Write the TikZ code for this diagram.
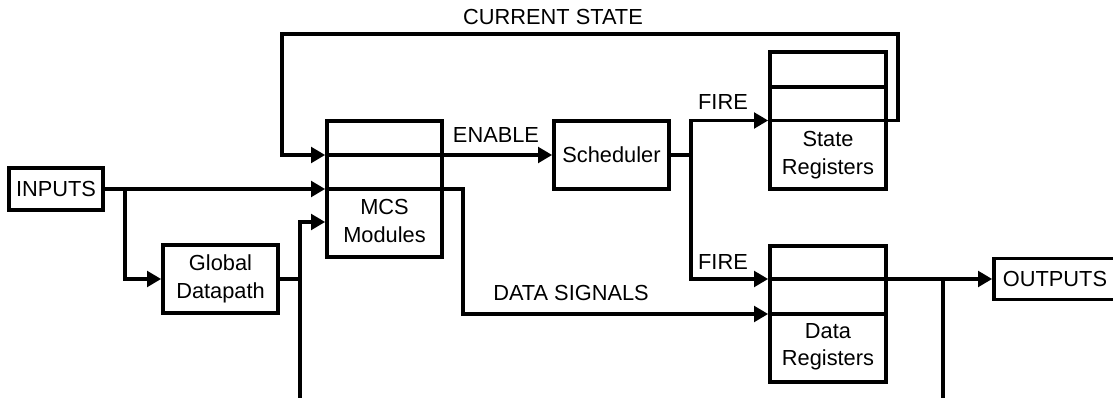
\documentclass[tikz,border=0pt]{standalone}
\usepackage{fontspec}
\setmainfont{Liberation Sans}
\usetikzlibrary{positioning, arrows.meta}

\begin{document}
\begin{tikzpicture}[x=0.025cm, y=-0.025cm, line width=2.6pt, font=\fontsize{15.5}{19.5}\selectfont]
    \tikzstyle{block} = [rectangle, draw, minimum width=2.875cm, text centered, align=center, inner sep=0pt]
    \tikzstyle{caption} = [align=center, inner sep=0pt]
    \tikzstyle{arrow} = [-{Triangle[length=10pt,width=11pt]}]

    \useasboundingbox (0,0) rectangle (1113,398);
    \clip (0,0) rectangle (1113,398);

    \node [block, minimum width=2.35cm, minimum height=1.05cm] (inputs) at (56,189) {INPUTS};
    \node [block, minimum height=1.7cm] (global) at (220.5,279) {Global\\Datapath};
    \node [block, minimum height=3.4cm] (mcs) at (384.5,189) {};
    \node [caption] (mcslabel) at (384.5,221) {MCS\\Modules};
    \node [block, minimum height=1.7cm] (sched) at (611.5,155) {Scheduler};
    \node [block, minimum width=2.9cm, minimum height=3.425cm] (state) at (828,120.5) {};
    \node [caption] (statelabel) at (828,155) {State\\Registers};
    \node [block, minimum width=2.9cm, minimum height=3.4cm] (data) at (828,314) {};
    \node [caption] (datalabel) at (828,347) {Data\\Registers};
    \node [block, minimum width=3.05cm, minimum height=1.025cm] (outputs) at (1055,279) {OUTPUTS};
    \draw (state.west |- 0,87) -- (state.east |- 0,87);

    % labels
    \node [caption] (curstate) at (553,17) {CURRENT STATE};
    \node [caption] (enable) at (496,135) {ENABLE};
    \node [caption] (firestate) at (723,102) {FIRE};
    \node [caption] (firedata) at (723,262) {FIRE};
    \node [caption] (datasig) at (571,293) {DATA SIGNALS};

    % inputs and datapath
    \coordinate (split) at (125,189);
    \coordinate (gturn) at (300,279);
    \coordinate (dsturn) at (463,189);
    \draw [arrow] (inputs.east) -- (mcs.west |- inputs.east);
    \draw [arrow] (split) |- (global.west);
    \draw [arrow] (global.east) -| (300,222) -- (mcs.west |- 0,222);
    \draw (gturn) -- (300,400);
    \draw [arrow] (mcs.west |- inputs.east) -- (dsturn) |- (data.west);
    \draw (data.west) -- (data.east);

    % current state feedback
    \draw [arrow] (state.west) -- (898,120.5) |- (282,34) |- (mcs.west |- sched.west);
    \draw [arrow] (mcs.west |- sched.west) -- (sched.west);

    % fire signals
    \coordinate (fork) at (691,155);
    \draw (sched.east) -- (fork);
    \draw [arrow] (fork) |- (state.west);
    \draw [arrow] (fork) |- (data.west |- 0,279);
    \draw [arrow] (data.west |- 0,279) -- (outputs.west);
    \draw (943,279) -- (943,400);
\end{tikzpicture}
\end{document}
